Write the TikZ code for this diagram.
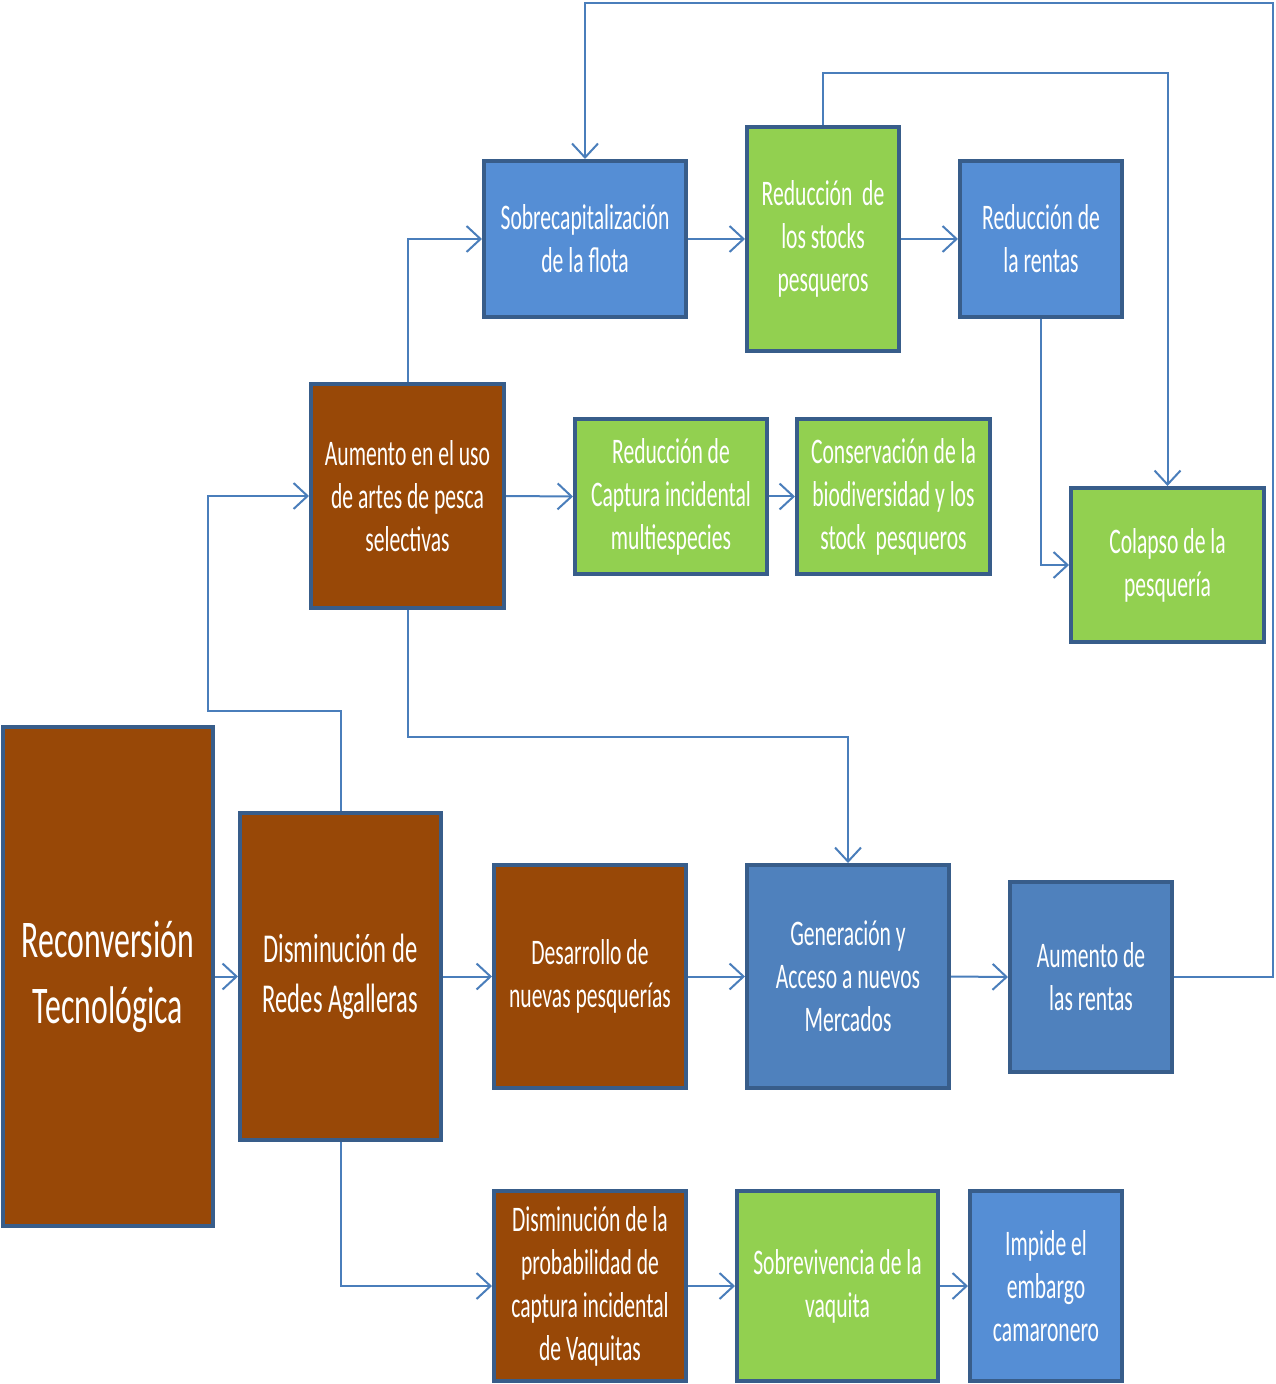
\documentclass[tikz,border=0pt]{standalone}
\usepackage{fontspec}
\setmainfont{Carlito}[FakeStretch=0.6]
\usetikzlibrary{arrows.meta}
\definecolor{bord}{HTML}{385D8A}
\definecolor{lblue}{HTML}{558ED5}
\definecolor{mblue}{HTML}{4F81BD}
\definecolor{lgreen}{HTML}{92D050}
\definecolor{brown}{HTML}{984807}
\definecolor{conncol}{HTML}{4A7EBB}
\tikzset{
  box/.style={draw=bord, line width=2pt, text=white, align=center, inner sep=0pt,
    font=\fontsize{18}{21.5}\selectfont},
  bluebox/.style={box, fill=lblue},
  midbluebox/.style={box, fill=mblue},
  greenbox/.style={box, fill=lgreen},
  brownbox/.style={box, fill=brown},
  conn/.style={draw=conncol, line width=1pt, -{Straight Barb[length=7pt,width=13pt,line width=1pt]}},
}
\begin{document}
\begin{tikzpicture}[x=0.5pt,y=-0.5pt]
\useasboundingbox (0,0) rectangle (1275,1384);
% top row
\node[bluebox, minimum width=101pt, minimum height=78pt] (sobre) at (585,239) {Sobrecapitalización\\de la flota};
\node[greenbox, minimum width=76pt, minimum height=112pt] (stocks) at (823,239) {Reducción~ de\\los stocks\\pesqueros};
\node[bluebox, minimum width=81pt, minimum height=78pt] (rentas) at (1041,239) {Reducción de\\la rentas};
% second row
\node[brownbox, minimum width=96.5pt, minimum height=112pt] (aumento) at (407.5,496) {Aumento en el uso\\de artes de pesca\\selectivas};
\node[greenbox, minimum width=96pt, minimum height=77.5pt] (captura) at (671,496.5) {Reducción de\\Captura incidental\\multiespecies};
\node[greenbox, minimum width=96.5pt, minimum height=77.5pt] (conserv) at (893.5,496.5) {Conservación de la\\biodiversidad y los\\stock~ pesqueros};
\node[greenbox, minimum width=96.5pt, minimum height=77pt] (colapso) at (1167.5,565) {Colapso de la\\pesquería};
% third row
\node[brownbox, minimum width=105pt, minimum height=249.5pt, font=\fontsize{26.5}{33}\selectfont] (reconv) at (108,976.5) {Reconversión\\Tecnológica};
\node[brownbox, minimum width=100.5pt, minimum height=163.5pt, font=\fontsize{20.5}{25}\selectfont] (dism) at (340.5,976.5) {Disminución de\\Redes Agalleras};
\node[brownbox, minimum width=96pt, minimum height=111.5pt] (desarrollo) at (590,976.5) {Desarrollo de\\nuevas pesquerías};
\node[midbluebox, minimum width=101pt, minimum height=111.5pt] (genera) at (848,976.5) {Generación y\\Acceso a nuevos\\Mercados};
\node[midbluebox, minimum width=81pt, minimum height=95pt] (aurentas) at (1091,977) {Aumento de\\las rentas};
% bottom row
\node[brownbox, minimum width=96pt, minimum height=95pt] (dprob) at (590,1286) {Disminución de la\\probabilidad de\\captura incidental\\de Vaquitas};
\node[greenbox, minimum width=100.5pt, minimum height=95pt] (sobrev) at (837.5,1286) {Sobrevivencia de la\\vaquita};
\node[bluebox, minimum width=76pt, minimum height=95pt] (impide) at (1046,1286) {Impide el\\embargo\\camaronero};
% bend points
\coordinate (b1) at (208,711);
\coordinate (b2) at (1273,3);
\coordinate (b3) at (1167.5,73);
\coordinate (b4) at (848,737);
% connectors
\draw[conn] (reconv.east) -- (dism.west);
\draw[conn] (dism.north) |- (b1) |- (aumento.west);
\draw[conn] (dism.south) |- (dprob.west);
\draw[conn] (dism.east) -- (desarrollo.west);
\draw[conn] (desarrollo.east) -- (genera.west);
\draw[conn] (genera.east) -- (aurentas.west);
\draw[conn] (aurentas.east) -| (b2) -| (sobre.north);
\draw[conn] (aumento.north) |- (sobre.west);
\draw[conn] (sobre.east) -- (stocks.west);
\draw[conn] (stocks.east) -- (rentas.west);
\draw[conn] (stocks.north) |- (b3) -- (colapso.north);
\draw[conn] (rentas.south) |- (colapso.west);
\draw[conn] (aumento.east) -- (captura.west);
\draw[conn] (captura.east) -- (conserv.west);
\draw[conn] (aumento.south) |- (b4) -- (genera.north);
\draw[conn] (dprob.east) -- (sobrev.west);
\draw[conn] (sobrev.east) -- (impide.west);
\end{tikzpicture}
\end{document}
